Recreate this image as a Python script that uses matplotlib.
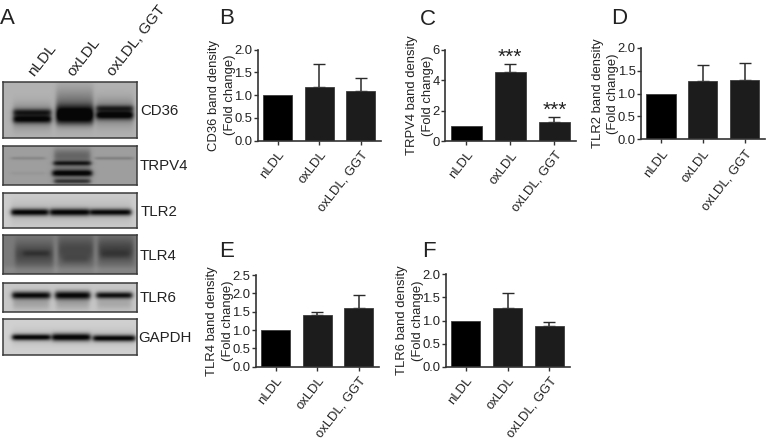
import numpy as np
import matplotlib
matplotlib.use("Agg")
import matplotlib.pyplot as plt

plt.rcParams['font.family'] = ['Liberation Sans', 'DejaVu Sans']
W, H = 769, 441
fig = plt.figure(figsize=(W / 100, H / 100), dpi=100, facecolor='white')
INK = '#222222'

def px_axes(x0, y0, x1, y1, **kw):
    return fig.add_axes([x0 / W, 1 - y1 / H, (x1 - x0) / W, (y1 - y0) / H], **kw)

# ---- data ----
categories = ['nLDL', 'oxLDL', 'oxLDL, GGT']
bar_colors = ['#000000', '#1c1c1c', '#1c1c1c']

cd36_vals = [1.0, 1.17, 1.10]
cd36_errs = [0, 0.51, 0.27]
trpv4_vals = [1.0, 4.55, 1.28]
trpv4_errs = [0, 0.48, 0.31]
tlr2_vals = [1.0, 1.27, 1.30]
tlr2_errs = [0, 0.35, 0.36]
tlr4_vals = [1.0, 1.40, 1.60]
tlr4_errs = [0, 0.10, 0.35]
tlr6_vals = [1.0, 1.27, 0.89]
tlr6_errs = [0, 0.32, 0.08]

blot_names = ['CD36', 'TRPV4', 'TLR2', 'TLR4', 'TLR6', 'GAPDH']
# background grey level of each blot
blot_bg = [0.70, 0.62, 0.80, 0.48, 0.78, 0.82]
# bands: x start, x end, y centre, y spread, darkness (blot pixels)
cd36_bands = [(10, 48, 30, 2.4, .38), (10, 48, 37, 2.8, .48), (10, 48, 34, 8, .25),
              (53, 90, 31, 5.5, .55), (53, 90, 24, 12, .26), (53, 90, 38, 4, .28),
              (93, 130, 26, 2.2, .34), (93, 130, 33, 3.0, .52), (93, 130, 30, 9, .25)]
trpv4_bands = [(50, 88, 17, 1.7, .40), (49, 89, 27, 2.4, .56), (51, 87, 35, 1.8, .40),
               (51, 87, 9, 5.0, .20), (51, 87, 22, 7, .12), (8, 42, 12, 1.1, .09),
               (92, 130, 12, 1.1, .12), (8, 42, 27, 1.2, .03)]
tlr2_bands = [(8, 45, 19, 2.5, .72), (47, 86, 19, 2.6, .72), (87, 128, 19, 2.4, .70),
              (8, 128, 19, 8, .08)]
tlr4_bands = [(12, 50, 19, 9.0, .20), (55, 90, 15, 10.0, .20), (95, 130, 15, 9.0, .22),
              (20, 46, 18, 2.2, .09), (60, 85, 24, 3.0, .06), (98, 126, 19, 3.0, .07),
              (0, 134, 35, 3.0, -.06), (51, 54, 20, 12, -.08), (91, 94, 20, 12, -.06)]
tlr6_bands = [(9, 47, 12, 2.7, .72), (52, 87, 12, 3.0, .74), (93, 129, 12, 2.4, .70),
              (10, 46, 20, 4.5, .14), (53, 86, 20, 4.5, .14), (94, 128, 20, 4.5, .12)]
gapdh_bands = [(9, 47, 18, 2.2, .75), (49, 87, 18, 2.7, .76), (90, 132, 19, 2.3, .74),
               (9, 132, 18, 6, .08)]
blot_bands = [cd36_bands, trpv4_bands, tlr2_bands, tlr4_bands, tlr6_bands, gapdh_bands]

# ---- layout (pixels) ----
blot_tops = [82, 146, 193, 235, 283, 319]
blot_bottoms = [138, 185, 228, 274, 312, 355]
blot_x0, blot_x1 = 3, 137
blot_label_x = [140, 140, 141, 140, 140, 138]

bar_panels = [
    (cd36_vals, cd36_errs, 'CD36', (257.7, 49.7, 381, 140.7), 2.0, [0, .5, 1, 1.5, 2], True),
    (trpv4_vals, trpv4_errs, 'TRPV4', (445, 49.7, 576, 141), 6, [0, 2, 4, 6], False),
    (tlr2_vals, tlr2_errs, 'TLR2', (641, 47.7, 765, 139.3), 2.0, [0, .5, 1, 1.5, 2], True),
    (tlr4_vals, tlr4_errs, 'TLR4', (255.7, 275, 379, 366.7), 2.5, [0, .5, 1, 1.5, 2, 2.5], True),
    (tlr6_vals, tlr6_errs, 'TLR6', (445.7, 274.3, 570, 366.7), 2.0, [0, .5, 1, 1.5, 2], True),
]
letters = [('A', 0, 24), ('B', 219, 24), ('C', 420, 25), ('D', 611, 24), ('E', 219, 257), ('F', 422, 257)]

# ---- blots ----
for name, bg, bands, top, bot, lx in zip(blot_names, blot_bg, blot_bands, blot_tops, blot_bottoms, blot_label_x):
    h, w = bot - top, blot_x1 - blot_x0
    yy, xx = np.mgrid[0:h * 2, 0:w * 2] / 2.0
    img = np.full(yy.shape, float(bg))
    for x0, x1, yc, s, d in bands:
        prof = 0.5 * (np.tanh((xx - x0) / 2.5) - np.tanh((xx - x1) / 2.5))
        img -= d * prof * np.exp(-0.5 * ((yy - yc) / s) ** 2)
    ax = px_axes(blot_x0, top, blot_x1, bot)
    ax.imshow(np.clip(img, 0.03, 1), cmap='gray', vmin=0, vmax=1, aspect='auto', interpolation='bilinear')
    ax.set_xticks([]); ax.set_yticks([])
    for s in ax.spines.values():
        s.set_linewidth(1.1); s.set_color('#3a3a3a')
    fig.text(lx / W, 1 - ((top + bot) / 2 + 1) / H, name, fontsize=10.8, va='center', ha='left', color=INK)

for label, x, y in zip(categories, [36, 76, 116], [79, 79, 79]):
    fig.text(x / W, 1 - y / H, label, fontsize=11, rotation=52, rotation_mode='anchor',
             ha='left', va='bottom', color=INK)

# ---- bar panels ----
for vals, errs, name, box, ymax, yticks, decimals in bar_panels:
    ax = px_axes(*box)
    ax.patch.set_alpha(0)
    x = np.arange(3)
    for xi, v, e, c in zip(x, vals, errs, bar_colors):
        ax.bar(xi, v, width=0.7, color=c, edgecolor='#3c3c3c', linewidth=0.6, zorder=2)
        if e > 0:
            ax.errorbar(xi, v, yerr=[[0], [e]], color='#2a2a2a', elinewidth=1.1, capsize=4.5,
                        capthick=1.0, zorder=1)
    ax.set_xlim(-0.48, 2.49)
    ax.set_ylim(0, ymax)
    ax.set_xticks(x)
    ax.set_xticklabels(categories, rotation=52, ha='right', rotation_mode='anchor', fontsize=9.4, color=INK)
    ax.set_yticks(yticks)
    ax.set_yticklabels([f'{t:.1f}' if decimals else f'{t:d}' for t in yticks], fontsize=9.4, color=INK)
    ax.tick_params(length=3, width=1.0, pad=1, color='#333333')
    ax.tick_params(axis='x', pad=3)
    ax.spines[['top', 'right']].set_visible(False)
    ax.spines[['left', 'bottom']].set_linewidth(1.2)
    ax.spines[['left', 'bottom']].set_color('#333333')
    ax.set_ylabel(f'{name} band density\n(Fold change)', fontsize=9.4, color=INK, labelpad=-1, linespacing=1.35)
    if name == 'TRPV4':
        ax.text(1, 4.85, '***', ha='center', va='bottom', fontsize=15, color=INK)
        ax.text(2, 1.4, '***', ha='center', va='bottom', fontsize=15, color=INK)

for s, x, y in letters:
    fig.text(x / W, 1 - y / H, s, fontsize=16, ha='left', va='baseline', color=INK)

fig.savefig('out.png', dpi=100)
